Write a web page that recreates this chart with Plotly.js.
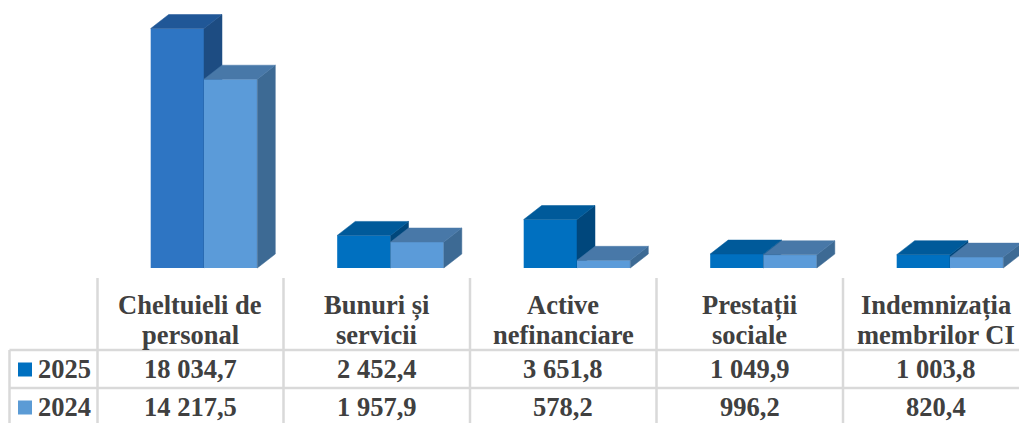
<!DOCTYPE html>
<html>
<head>
<meta charset="utf-8">
<script src="https://cdn.plot.ly/plotly-3.0.1.min.js"></script>
<style>html,body{margin:0;padding:0;background:#fff;overflow:hidden}#chart{width:1019px;height:423px}</style>
</head>
<body>
<div id="chart"></div>
<script>
const categoryLine1 = ["Cheltuieli de", "Bunuri și", "Active", "Prestații", "Indemnizația"];
const categoryLine2 = ["personal", "servicii", "nefinanciare", "sociale", "membrilor CI"];
const values2025 = [18034.7, 2452.4, 3651.8, 1049.9, 1003.8];
const values2024 = [14217.5, 1957.9, 578.2, 996.2, 820.4];
const labels2025 = ["18 034,7", "2 452,4", "3 651,8", "1 049,9", "1 003,8"];
const labels2024 = ["14 217,5", "1 957,9", "578,2", "996,2", "820,4"];
const seriesNames = ["2025", "2024"];

const W = 1019, H = 423;
const xRange = [-204 / 186.5, (W - 204) / 186.5];
const yRange = [-(H - 268) / 0.01328, 268 / 0.01328];
const barW = 53.3 / 186.5, depthX = 18 / 186.5, depthY = 14 / 0.01328;
const edge = "#A9C9E8";
const idx = categoryLine1.map((_, i) => i);

const px = v => v / W, py = v => 1 - v / H;

function faces(i, v, x0, xa, ya, top, side) {
  const x1 = x0 + barW;
  const poly = (xs, ys, color) => ({
    type: "scatter", mode: "lines", fill: "toself", fillcolor: color,
    line: {color: color, width: 0.5}, x: xs, y: ys, xaxis: xa, yaxis: ya,
    hoverinfo: "skip", showlegend: false
  });
  return [
    poly([x1, x1 + depthX, x1 + depthX, x1, x1], [0, depthY, v + depthY, v, 0], side),
    poly([x0, x0 + depthX, x1 + depthX, x1, x0], [v, v + depthY, v + depthY, v, v], top)
  ];
}

const traces = [];
traces.push({type: "bar", name: seriesNames[0], x: idx, y: values2025, width: barW, offset: -barW,
  marker: {color: idx.map(i => i === 0 ? "#2E75C3" : "#0070C0"), line: {width: 0}},
  xaxis: "x", yaxis: "y", hoverinfo: "skip"});
idx.forEach(i => traces.push(...faces(i, values2025[i], i - barW, "x", "y",
  i === 0 ? "#205797" : "#005A9A", i === 0 ? "#1D4C82" : "#00477C")));
traces.push({type: "bar", name: seriesNames[1], x: idx, y: values2024, width: barW, offset: 0,
  marker: {color: "#5B9BD9", line: {width: 0}},
  xaxis: "x2", yaxis: "y2", hoverinfo: "skip"});
idx.forEach(i => traces.push(...faces(i, values2024[i], i, "x2", "y2", "#4878A8", "#3D6A94")));

const grid = "#D9D9D9";
const seg = (x0, y0, x1, y1) => ({type: "line", xref: "paper", yref: "paper",
  x0: px(x0), y0: py(y0), x1: px(x1), y1: py(y1), line: {color: grid, width: 2.5}});
const shapes = [
  seg(9.5, 350, W, 350), seg(9.5, 388, W, 388), seg(9.5, 350, 9.5, H)
];
[97.5, 283.5, 470, 656.5, 843].forEach(x => shapes.push(seg(x, 278, x, H)));
const key = (y, c) => ({type: "rect", xref: "paper", yref: "paper", x0: px(18), x1: px(32),
  y0: py(y), y1: py(y + 14), fillcolor: c, line: {width: 0}});
shapes.push(key(362.5, "#0070C0"), key(400.5, "#5B9BD5"));

const font = {family: "Liberation Serif", size: 26.5, color: "#404040", weight: 700};
const centre = i => i - 13.7 / 186.5;
const ann = (text, i, y) => ({text: "<b>" + text + "</b>", xref: "x", yref: "paper", x: centre(i), y: py(y),
  xanchor: "center", yanchor: "middle", showarrow: false, font, align: "center"});
const annotations = [];
idx.forEach(i => {
  annotations.push(ann(categoryLine1[i], i, 305));
  annotations.push(ann(categoryLine2[i], i, 335));
  annotations.push(ann(labels2025[i], i, 368.5));
  annotations.push(ann(labels2024[i], i, 407));
});
seriesNames.forEach((s, k) => annotations.push({text: "<b>" + s + "</b>", xref: "paper", yref: "paper",
  x: px(36), y: py(k ? 407 : 368.5), xanchor: "left", yanchor: "middle", showarrow: false, font}));

const axX = {range: xRange, visible: false, fixedrange: true};
const axY = {range: yRange, visible: false, fixedrange: true};
const layout = {
  width: W, height: H, margin: {l: 0, r: 0, t: 0, b: 0}, paper_bgcolor: "#fff", plot_bgcolor: "#fff",
  barmode: "overlay", showlegend: false,
  xaxis: {...axX}, yaxis: {...axY},
  xaxis2: {...axX, overlaying: "x"}, yaxis2: {...axY, overlaying: "y"},
  shapes, annotations
};
Plotly.newPlot("chart", traces, layout, {displayModeBar: false, staticPlot: true});
</script>
</body>
</html>
